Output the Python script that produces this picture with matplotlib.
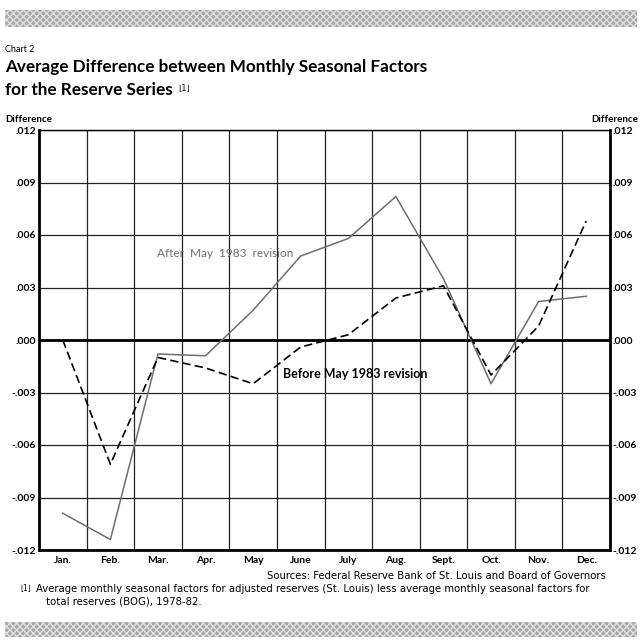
import matplotlib
matplotlib.use("Agg")
import matplotlib.pyplot as plt
from matplotlib.patches import Rectangle
import numpy as np

months = ["Jan.", "Feb.", "Mar.", "Apr.", "May", "June", "July", "Aug.", "Sept.", "Oct.", "Nov.", "Dec."]
after_rev = [-0.0099, -0.0114, -0.0008, -0.0009, 0.0017, 0.0048, 0.0058, 0.0082, 0.0035, -0.0025, 0.0022, 0.0025]
before_rev = [0.0000, -0.0071, -0.0010, -0.0016, -0.0025, -0.0004, 0.0003, 0.0024, 0.0031, -0.0020, 0.0008, 0.0068]
yticks = [-0.012, -0.009, -0.006, -0.003, 0.0, 0.003, 0.006, 0.009, 0.012]
ytick_labels = ["-.012", "-.009", "-.006", "-.003", ".000", ".003", ".006", ".009", ".012"]

plt.rcParams['font.family'] = ['Lato', 'DejaVu Sans']

fig = plt.figure(figsize=(6.42, 6.41), dpi=100)
ax = fig.add_axes([39/642, 1 - 550/641, (610 - 39)/642, (550 - 130)/641])

x = np.arange(len(months)) + 0.5

# grid
for v in range(13):
    ax.axvline(v, color='#222222', lw=0.9, zorder=1)
for t in yticks:
    ax.axhline(t, color='#222222', lw=0.9, zorder=1)
ax.axhline(0, color='black', lw=2.0, zorder=2)

ax.plot(x, after_rev, color='#6e6e6e', lw=1.1, zorder=3)
ax.plot(x, before_rev, color='black', lw=1.2, dashes=(5, 2.5), zorder=4)

ax.set_xlim(0, 12)
ax.set_ylim(-0.012, 0.012)
ax.set_xticks(x)
ax.set_xticklabels(months, fontsize=7.5, fontweight='bold')
ax.set_yticks(yticks)
ax.set_yticklabels(ytick_labels, fontsize=7.5, fontweight='bold')
ax.tick_params(length=0, pad=4)
ax.tick_params(axis='y', labelright=True, pad=2)
for side in ['left', 'right', 'bottom']:
    ax.spines[side].set_linewidth(2.0)
ax.spines['top'].set_linewidth(1.0)

ax.text(2.48, 0.00494, "After  May  1983  revision", fontsize=8.5, color='#707070',
        va='center', ha='left')
ax.text(5.13, -0.00195, "Before May 1983 revision", fontsize=9, fontweight='bold',
        color='black', va='center', ha='left')

# titles
fig.text(5/642, 1 - 49/641, "Chart 2", fontsize=6.5, va='center', ha='left')
fig.text(5/642, 1 - 67/641, "Average Difference between Monthly Seasonal Factors",
         fontsize=12.3, fontweight='bold', va='center', ha='left')
fig.text(5/642, 1 - 90/641, "for the Reserve Series",
         fontsize=12.3, fontweight='bold', va='center', ha='left')
fig.text(178/642, 1 - 88/641, "\u230a1\u230b", fontsize=6, va='center', ha='left',
         family=['DejaVu Sans'])
fig.text(5/642, 1 - 119/641, "Difference", fontsize=7, fontweight='bold', va='center', ha='left')
fig.text(638/642, 1 - 119/641, "Difference", fontsize=7, fontweight='bold', va='center', ha='right')

fig.text(606/642, 1 - 576/641, "Sources: Federal Reserve Bank of St. Louis and Board of Governors",
         fontsize=7.3, va='center', ha='right', family=['DejaVu Sans'])
fig.text(20/642, 1 - 589/641, "\u230a1\u230b", fontsize=5.5, va='center', ha='left',
         family=['DejaVu Sans'])
fig.text(36/642, 1 - 589/641,
         "Average monthly seasonal factors for adjusted reserves (St. Louis) less average monthly seasonal factors for",
         fontsize=7.3, va='center', ha='left', family=['DejaVu Sans'])
fig.text(46/642, 1 - 601/641, "total reserves (BOG), 1978-82.", fontsize=7.3, va='center', ha='left',
         family=['DejaVu Sans'])

# hatched bands at top and bottom
for y0, y1 in [(10, 27), (622, 637)]:
    fig.patches.append(Rectangle((5/642, 1 - y1/641), 632/642, (y1 - y0)/641,
                                 transform=fig.transFigure, facecolor='#a8a8a8',
                                 edgecolor='#e0e0e0', hatch='xxxxx', lw=0))

fig.savefig("out.png", dpi=100)
